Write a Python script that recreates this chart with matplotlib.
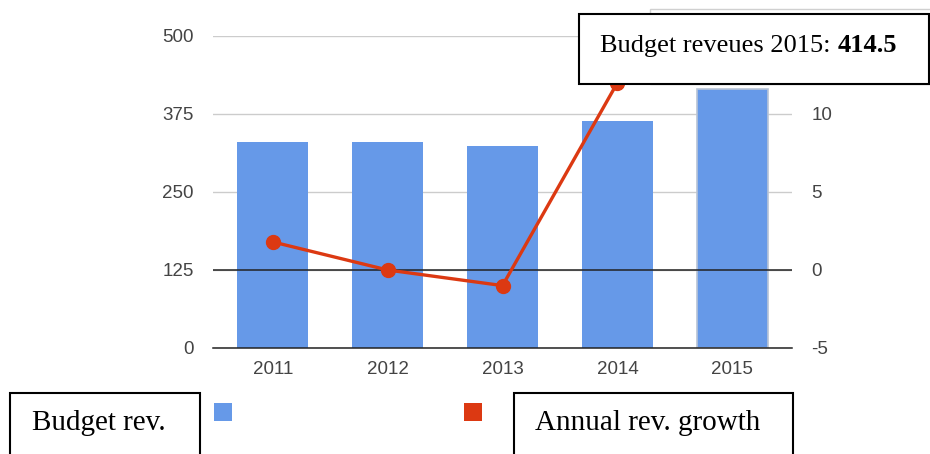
import matplotlib
matplotlib.use("Agg")
from matplotlib import pyplot as plt
from matplotlib.patches import Rectangle

YEARS = ["2011", "2012", "2013", "2014", "2015"]
BUDGET_REV = [330, 330, 324, 364, 414.5]
REV_GROWTH = [1.8, 0.0, -1.0, 12.0, 13.5]
LEFT_TICKS = [0, 125, 250, 375, 500]
RIGHT_TICKS = [-5, 0, 5, 10]
RIGHT_MAX = 15

BLUE = "#6699e8"
RED = "#dc3912"
TICK_INK = "#444444"
GRID = "#cccccc"
W, H = 930, 454

plt.rcParams["axes.unicode_minus"] = False


def px(x, y):
    """pixel coords (origin top-left) -> figure fraction"""
    return x / W, 1 - y / H


def box(x_left, y_top, x_right, y_bottom, **kw):
    x0, y0 = px(x_left, y_bottom)
    x1, y1 = px(x_right, y_top)
    fig.add_artist(Rectangle((x0, y0), x1 - x0, y1 - y0, transform=fig.transFigure, **kw))


fig = plt.figure(figsize=(W / 100, H / 100), dpi=100)
ax = fig.add_axes([213 / W, 1 - 348 / H, (792 - 213) / W, (348 - 36) / H])
ax2 = ax.twinx()

xs = range(len(YEARS))
ax.bar(xs, BUDGET_REV, width=0.62, color=BLUE, zorder=2,
       edgecolor=[BLUE] * 4 + ["#b8c4d6"], linewidth=[0] * 4 + [1.2])
ax.set_xlim(-0.52, len(YEARS) - 0.48)
ax.set_ylim(LEFT_TICKS[0], LEFT_TICKS[-1])
ax.set_yticks(LEFT_TICKS)
ax.set_xticks(list(xs))
ax.set_xticklabels(YEARS)
ax.yaxis.grid(True, color=GRID, linewidth=1, zorder=0)
ax.set_axisbelow(True)

ax2.set_ylim(RIGHT_TICKS[0], RIGHT_MAX)
ax2.set_yticks(RIGHT_TICKS)
ax2.axhline(0, color="#222222", linewidth=1.1, zorder=1)
ax2.plot(xs, REV_GROWTH, "-o", color=RED, linewidth=2.4, markersize=10, zorder=3)

for a in (ax, ax2):
    for side in a.spines.values():
        side.set_visible(False)
    a.tick_params(length=0, labelsize=13.5, colors=TICK_INK, pad=14)
    for lab in a.get_xticklabels() + a.get_yticklabels():
        lab.set_family("Liberation Sans")
ax.spines["bottom"].set_visible(True)
ax.spines["bottom"].set_color("#222222")
ax.spines["bottom"].set_linewidth(1.1)
ax.tick_params(axis="x", pad=9)

# hover tooltip: faint native frame behind, boxed caption on top
box(650, 9, 935, 84, facecolor="white", edgecolor="#d0d0d0", linewidth=1, zorder=5)
box(579, 14, 929, 84, facecolor="white", edgecolor="black", linewidth=1.5, zorder=6)
tx, ty = px(600, 52)
cap = fig.text(tx, ty, "Budget reveues 2015: ", fontsize=19, family="Liberation Serif",
               va="baseline", ha="left", zorder=7)
fig.canvas.draw()
bb = cap.get_window_extent()
fig.text(bb.x1 / W, ty, f"{BUDGET_REV[-1]}", fontsize=19, family="Liberation Serif",
         fontweight="bold", va="baseline", ha="left", zorder=7)

# legend: boxed labels beside colour swatches
for (bx0, bx1, tx_px), label in zip([(10, 200, 32), (514, 793, 535)],
                                    ["Budget rev.", "Annual rev. growth"]):
    box(bx0, 393, bx1, 470, facecolor="white", edgecolor="black", linewidth=1.5, zorder=6)
    tx, ty = px(tx_px, 430)
    fig.text(tx, ty, label, fontsize=21, family="Liberation Serif", va="baseline",
             ha="left", zorder=7)

for sx, color in [(214, BLUE), (464, RED)]:
    box(sx, 403, sx + 18, 421, facecolor=color, edgecolor="none", zorder=6)

fig.savefig("out.png", dpi=100)
